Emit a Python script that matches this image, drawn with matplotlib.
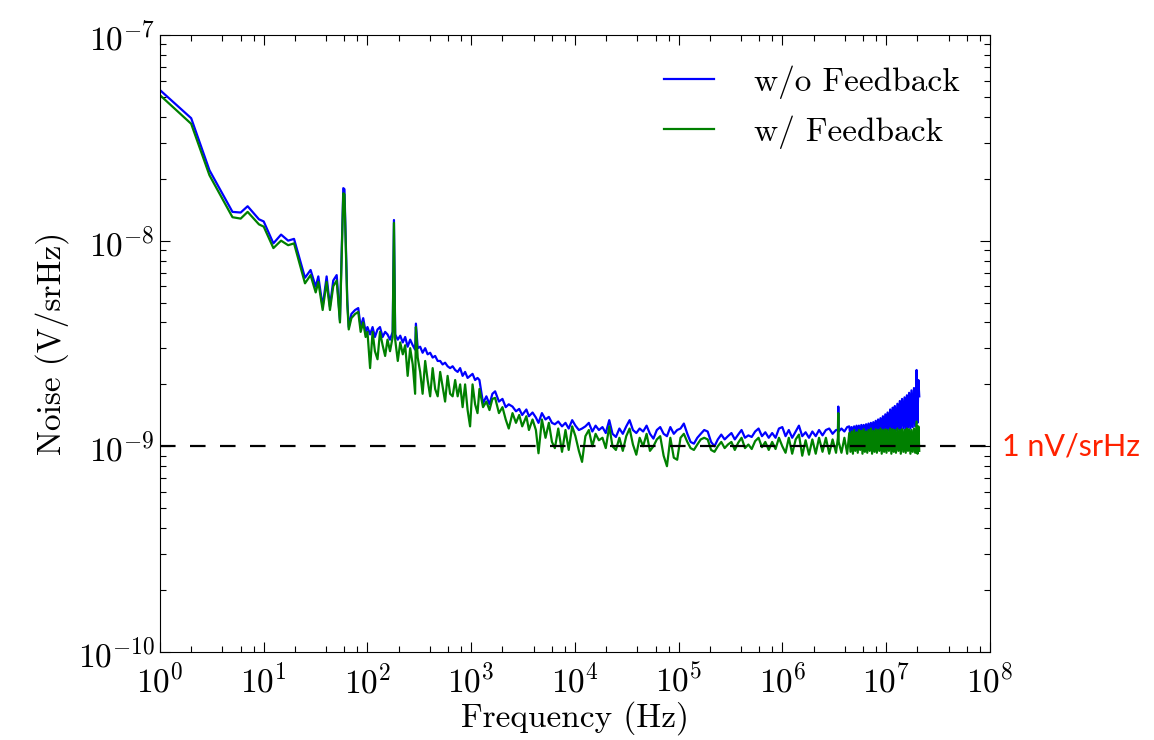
import matplotlib
matplotlib.use("Agg")
import matplotlib.pyplot as plt
import numpy as np
from matplotlib.ticker import LogLocator, NullFormatter

plt.rcParams['font.family'] = 'serif'
plt.rcParams['font.serif'] = ['cmr10']
plt.rcParams['mathtext.fontset'] = 'cm'
plt.rcParams['axes.formatter.use_mathtext'] = True

# -----------------------------
# Data (values in nV/srHz)
# -----------------------------
# 1 Hz - 100 Hz
freq_a = [1, 2, 3, 5, 6, 7, 9, 10, 12.4, 14.7, 17.2, 19.6, 25, 28.3, 31.7, 33.6,
          37, 40.4, 43.5, 46.8, 50.5, 54.3, 58.5, 60, 63.9, 66, 70, 76, 81.5, 86,
          91, 96]
wo_a = [54, 39.4, 22, 13.8, 13.7, 14.7, 12.7, 12.4, 9.7, 10.7, 10.0, 10.2, 6.6,
        7.2, 5.97, 6.7, 4.78, 6.7, 4.78, 6.4, 6.8, 4.1, 18.0, 17.8, 5.15, 3.8,
        4.4, 4.6, 4.7, 3.8, 4.2, 3.6]
w_a = [51, 37, 20.8, 13.0, 12.8, 13.8, 12.0, 11.7, 9.2, 10.0, 9.5, 9.7, 6.2,
       6.8, 5.6, 6.3, 4.6, 6.3, 4.6, 6.0, 6.4, 4.0, 17.0, 16.8, 4.9, 3.7,
       4.2, 4.4, 4.5, 3.6, 4.0, 3.4]

# 100 Hz - 1.2 kHz
freq_b = [100, 106, 112, 118, 125, 132, 140, 148, 156, 165,
          175, 180, 185, 196, 207, 219, 231, 244, 258, 273,
          288, 293, 305, 322, 340, 360, 380, 402, 425, 449,
          475, 502, 530, 560, 592, 626, 662, 700, 740, 782,
          826, 873, 923, 975, 1030, 1090, 1150, 1200]
wo_b = [3.8, 3.5, 3.8, 3.4, 3.7, 3.8, 3.4, 3.6, 3.5, 3.3,
        3.6, 12.6, 3.5, 3.3, 3.45, 3.2, 3.4, 3.05, 3.3, 3.1,
        2.95, 3.95, 3.0, 3.05, 2.85, 3.0, 2.8, 2.85, 2.7, 2.75,
        2.6, 2.6, 2.5, 2.55, 2.45, 2.4, 2.45, 2.35, 2.3, 2.4,
        2.2, 2.3, 2.15, 2.2, 2.25, 2.1, 2.15, 2.1]
w_b = [3.6, 2.4, 3.6, 2.9, 2.65, 3.6, 3.1, 2.75, 3.3, 2.9,
       3.4, 12.2, 3.3, 2.6, 3.2, 2.8, 3.1, 2.2, 3.0, 2.5,
       1.8, 3.8, 2.7, 2.3, 1.8, 2.6, 2.1, 1.75, 2.4, 1.9,
       1.75, 2.3, 1.95, 1.65, 2.2, 1.8, 1.75, 2.1, 1.75, 2.0,
       1.55, 2.0, 1.5, 1.25, 2.0, 1.6, 1.45, 1.9]

# 1.3 kHz - 10 kHz
freq_c = [1.3e3, 1.4e3, 1.5e3, 1.6e3, 1.7e3, 1.85e3, 2.0e3, 2.15e3, 2.3e3, 2.5e3,
          2.7e3, 2.9e3, 3.1e3, 3.4e3, 3.6e3, 3.9e3, 4.2e3, 4.45e3, 4.8e3, 5.2e3,
          5.6e3, 6.0e3, 6.4e3, 6.9e3, 7.5e3, 8.1e3, 8.7e3, 9.4e3, 10.1e3]
wo_c = [1.62, 1.75, 1.6, 1.8, 1.85, 1.65, 1.7, 1.55, 1.6, 1.56,
        1.48, 1.52, 1.42, 1.51, 1.4, 1.46, 1.38, 1.3, 1.45, 1.35,
        1.39, 1.3, 1.28, 1.32, 1.25, 1.3, 1.22, 1.34, 1.26]
w_c = [1.55, 1.65, 1.5, 1.7, 1.72, 1.45, 1.55, 1.35, 1.22, 1.45,
       1.3, 1.42, 1.25, 1.4, 1.2, 1.35, 1.2, 0.925, 1.35, 1.1,
       1.3, 1.05, 0.98, 1.22, 0.94, 1.2, 0.96, 1.25, 1.12]

# 10 kHz - 100 kHz
freq_d = [10.9e3, 11.7e3, 12.6e3, 13.6e3, 14.7e3, 15.8e3, 17e3, 18.4e3, 19.8e3, 21.4e3,
          23e3, 24.8e3, 26.8e3, 28.9e3, 31.2e3, 33.6e3, 36.2e3, 39e3, 42e3, 45.4e3,
          49e3, 52.8e3, 57e3, 61.5e3, 66.3e3, 71.5e3, 77e3, 83e3, 89.6e3, 96.6e3]
wo_d = [1.2, 1.22, 1.25, 1.3, 1.18, 1.26, 1.2, 1.24, 1.16, 1.34,
        1.15, 1.11, 1.22, 1.15, 1.25, 1.34, 1.2, 1.16, 1.22, 1.18,
        1.26, 1.15, 1.09, 1.2, 1.24, 1.15, 1.12, 1.24, 1.15, 1.2]
w_d = [0.95, 0.84, 1.12, 1.2, 1.0, 1.15, 1.07, 1.1, 0.98, 1.25,
       1.0, 0.96, 1.1, 0.95, 1.12, 1.22, 1.02, 0.91, 1.1, 1.0,
       1.15, 0.95, 1.0, 1.08, 1.12, 0.9, 0.8, 1.1, 0.88, 0.86]

# 100 kHz - 1 MHz
freq_e = [104e3, 112e3, 121e3, 130e3, 140e3, 151e3, 163e3, 176e3, 190e3, 205e3,
          221e3, 238e3, 257e3, 277e3, 298e3, 322e3, 347e3, 374e3, 403e3, 435e3,
          469e3, 505e3, 545e3, 588e3, 634e3, 683e3, 737e3, 795e3, 857e3, 924e3,
          996e3]
wo_e = [1.22, 1.29, 1.15, 1.05, 1.03, 1.1, 1.15, 1.2, 1.18, 1.05,
        1.0, 1.08, 1.14, 1.08, 1.12, 1.16, 1.08, 1.14, 1.2, 1.1,
        1.13, 1.11, 1.18, 1.22, 1.12, 1.17, 1.1, 1.16, 1.1, 1.22,
        1.24]
w_e = [1.1, 1.15, 1.05, 0.98, 0.96, 1.02, 1.08, 1.1, 1.08, 0.96,
       0.94, 1.0, 1.05, 0.98, 1.02, 1.05, 0.96, 1.04, 1.1, 0.98,
       1.02, 0.97, 1.06, 1.1, 0.99, 1.05, 0.96, 1.05, 0.97, 1.1,
       1.0]

# 1 MHz - 4.2 MHz
freq_f = [1.07e6, 1.15e6, 1.24e6, 1.34e6, 1.44e6, 1.55e6, 1.67e6, 1.8e6, 1.94e6, 2.09e6,
          2.25e6, 2.43e6, 2.62e6, 2.82e6, 3.04e6, 3.28e6, 3.42e6, 3.45e6, 3.48e6, 3.7e6,
          3.95e6, 4.2e6]
wo_f = [1.12, 1.2, 1.1, 1.18, 1.26, 1.12, 1.17, 1.1, 1.18, 1.12,
        1.2, 1.13, 1.2, 1.22, 1.15, 1.2, 1.2, 1.56, 1.18, 1.22,
        1.18, 1.24]
w_f = [0.93, 1.1, 0.92, 1.08, 1.14, 0.9, 1.07, 0.91, 1.08, 0.92,
       1.1, 0.94, 1.1, 0.92, 1.08, 0.93, 1.1, 1.45, 1.05, 0.93,
       1.1, 0.92]

# 4.4 MHz - 20.8 MHz
freq_g = [4.4e6, 4.52e6, 4.64e6, 4.77e6, 4.9e6, 5.03e6, 5.17e6, 5.31e6, 5.45e6, 5.6e6,
          5.75e6, 5.9e6, 6.06e6, 6.22e6, 6.39e6, 6.56e6, 6.74e6, 6.92e6, 7.11e6, 7.3e6,
          7.5e6, 7.7e6, 7.91e6, 8.12e6, 8.34e6, 8.57e6, 8.8e6, 9.04e6, 9.28e6, 9.53e6,
          9.79e6, 10.05e6, 10.3e6, 10.6e6, 10.9e6, 11.2e6, 11.5e6, 11.8e6, 12.1e6, 12.4e6,
          12.8e6, 13.1e6, 13.5e6, 13.8e6, 14.2e6, 14.6e6, 15.0e6, 15.4e6, 15.8e6, 16.2e6,
          16.6e6, 17.1e6, 17.5e6, 18.0e6, 18.5e6, 19.0e6, 19.5e6, 19.6e6, 20.0e6, 20.4e6,
          20.8e6]
wo_g = [1.25, 1.12, 1.24, 1.13, 1.25, 1.12, 1.26, 1.13, 1.26, 1.14,
        1.27, 1.13, 1.27, 1.14, 1.28, 1.15, 1.29, 1.14, 1.3, 1.15,
        1.31, 1.16, 1.33, 1.15, 1.35, 1.17, 1.37, 1.16, 1.4, 1.18,
        1.43, 1.17, 1.46, 1.19, 1.51, 1.18, 1.54, 1.2, 1.57, 1.19,
        1.61, 1.21, 1.66, 1.2, 1.7, 1.22, 1.73, 1.21, 1.77, 1.23,
        1.82, 1.22, 1.87, 1.24, 1.92, 1.25, 1.97, 2.35, 1.3, 2.1,
        1.75]
w_g = [1.16, 0.94, 1.18, 0.92, 1.2, 0.95, 1.17, 0.93, 1.2, 0.96,
       1.19, 0.92, 1.21, 0.94, 1.18, 0.93, 1.2, 0.95, 1.22, 0.92,
       1.19, 0.94, 1.21, 0.93, 1.2, 0.95, 1.22, 0.92, 1.2, 0.94,
       1.21, 0.93, 1.2, 0.95, 1.22, 0.92, 1.21, 0.94, 1.2, 0.93,
       1.22, 0.95, 1.2, 0.92, 1.21, 0.94, 1.2, 0.93, 1.22, 0.95,
       1.21, 0.92, 1.2, 0.94, 1.22, 0.93, 1.24, 1.32, 0.92, 1.25,
       0.95]

reference_level = 1.0  # nV/srHz
reference_label = "1 nV/srHz"

freq_hz = np.concatenate([freq_a, freq_b, freq_c, freq_d, freq_e, freq_f, freq_g])
noise_without_fb = np.concatenate([wo_a, wo_b, wo_c, wo_d, wo_e, wo_f, wo_g]) * 1e-9
noise_with_fb = np.concatenate([w_a, w_b, w_c, w_d, w_e, w_f, w_g]) * 1e-9

# -----------------------------
# Figure
# -----------------------------
fig = plt.figure(figsize=(11.54, 7.40), dpi=100)
ax = fig.add_axes([0.1386, 0.119, 0.7193, 0.8337])

ax.plot(freq_hz, noise_without_fb, color="#0000ff", lw=1.6, label="w/o Feedback")
ax.plot(freq_hz, noise_with_fb, color="#008000", lw=1.6, label="w/ Feedback")
ax.axhline(reference_level * 1e-9, color="black", lw=1.6, dashes=(7, 6.5))

ax.set_xscale("log")
ax.set_yscale("log")
ax.set_xlim(1, 1e8)
ax.set_ylim(1e-10, 1e-7)

ax.xaxis.set_major_locator(LogLocator(base=10, numticks=20))
ax.xaxis.set_minor_locator(LogLocator(base=10, subs=(2, 4, 6, 8), numticks=20))
ax.xaxis.set_minor_formatter(NullFormatter())
ax.yaxis.set_minor_locator(LogLocator(base=10, subs=range(2, 10), numticks=20))
ax.yaxis.set_minor_formatter(NullFormatter())

ax.tick_params(which="both", direction="in", top=True, right=True, labelsize=24)
ax.tick_params(which="major", length=7, width=0.8)
ax.tick_params(which="minor", length=4, width=0.8)
ax.tick_params(axis="x", which="major", pad=8)

ax.set_xlabel("Frequency (Hz)", fontsize=24, labelpad=2)
ax.set_ylabel("Noise (V/srHz)", fontsize=24, labelpad=6)

ax.text(1.015, reference_level * 1e-9, reference_label, transform=ax.get_yaxis_transform(),
        color="#ff2200", fontsize=22, family="Lato", va="center", ha="left")

ax.legend(loc="upper right", frameon=False, fontsize=24, handlelength=1.5,
          handletextpad=1.2, labelspacing=0.5, borderaxespad=0.5)

plt.savefig("out.png", dpi=100)
plt.close()
